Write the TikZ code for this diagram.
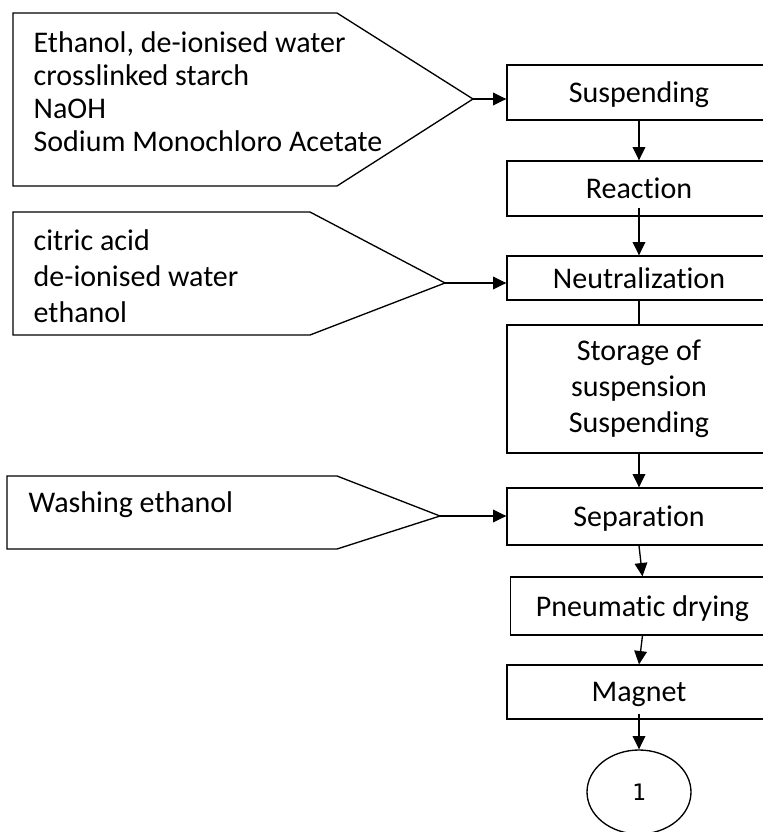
\documentclass[tikz,border=0pt]{standalone}
\usepackage{fontspec}
\setmainfont{Carlito}[Ligatures=NoCommon]
\newfontfamily\digitfont{DejaVu Sans Mono}
\usetikzlibrary{arrows.meta,positioning,shapes.geometric}

\begin{document}
\begin{tikzpicture}[
  x=0.75pt,y=-0.75pt,
  line width=1pt,
  every node/.style={font=\fontsize{22.5}{27}\selectfont},
  stepbox/.style={draw,minimum width=198pt,inner sep=0pt,align=center},
  onebox/.style={stepbox,text depth=0pt},
  feed/.style={draw,line join=miter},
  intext/.style={anchor=north west,inner sep=0pt,align=left},
  flow/.style={draw,-{Triangle[length=10pt,width=9.5pt]}}]

\useasboundingbox (0,0) rectangle (763,832);

% input pentagons
\draw[feed] (13,13) -- (337,13) -- (473,99) coordinate (tipA) -- (337,186) -- (13,186) -- cycle;
\draw[feed] (13,212) -- (310,212) -- (445,283) coordinate (tipB) -- (310,335) -- (13,335) -- cycle;
\draw[feed] (7,476) -- (337,476) -- (440,516) coordinate (tipC) -- (337,549) -- (7,549) -- cycle;

\node[intext,font=\fontsize{22.5}{24.75}\selectfont] (mixA) at (33,31)
  {Ethanol, de-ionised water\\crosslinked starch\\NaOH\\Sodium Monochloro Acetate};
\node[intext] (mixB) at (33,229) {citric acid\\de-ionised water\\ethanol};
\node[intext] (mixC) at (28,491) {Washing ethanol};

% process steps
\node[onebox,minimum height=41.25pt] (susp) at (639,92.5) {Suspending};
\node[onebox,minimum height=41.25pt,below=29.75pt of susp] (react) {Reaction};
\node[onebox,minimum height=33pt,below=29pt of react] (neut) {Neutralization};
\node[stepbox,minimum height=96pt,below=17.75pt of neut] (store) {Storage of\\suspension\\Suspending};
\node[onebox,minimum height=42.75pt,below=25.25pt of store] (sep) {Separation};
\node[onebox,minimum height=43.5pt,below=23pt of sep,xshift=2.6pt] (dry) {Pneumatic drying};
\node[onebox,minimum height=40.5pt,below=21.5pt of dry,xshift=-2.6pt] (magnet) {Magnet};
\node[draw,ellipse,minimum width=78pt,minimum height=63pt,inner sep=0pt,
  below=22.25pt of magnet,font=\digitfont\fontsize{17}{19}\selectfont] (link) {1};

\draw[flow] (tipA) -- (tipA -| susp.west);
\draw[flow] (tipB) -- (tipB -| neut.west);
\draw[flow] (tipC) -- (tipC -| sep.west);

\draw[flow] (susp) -- (react);
\draw[flow,shorten <=-6.75pt] (react) -- (neut);
\draw (neut) -- (store);
\draw[flow] (store) -- (sep);
\draw[flow] (sep.south) -- (dry.north);
\draw[flow] (dry.south) -- (magnet.north);
\draw[flow,shorten <=-4.5pt] (magnet) -- (link);
\end{tikzpicture}
\end{document}
